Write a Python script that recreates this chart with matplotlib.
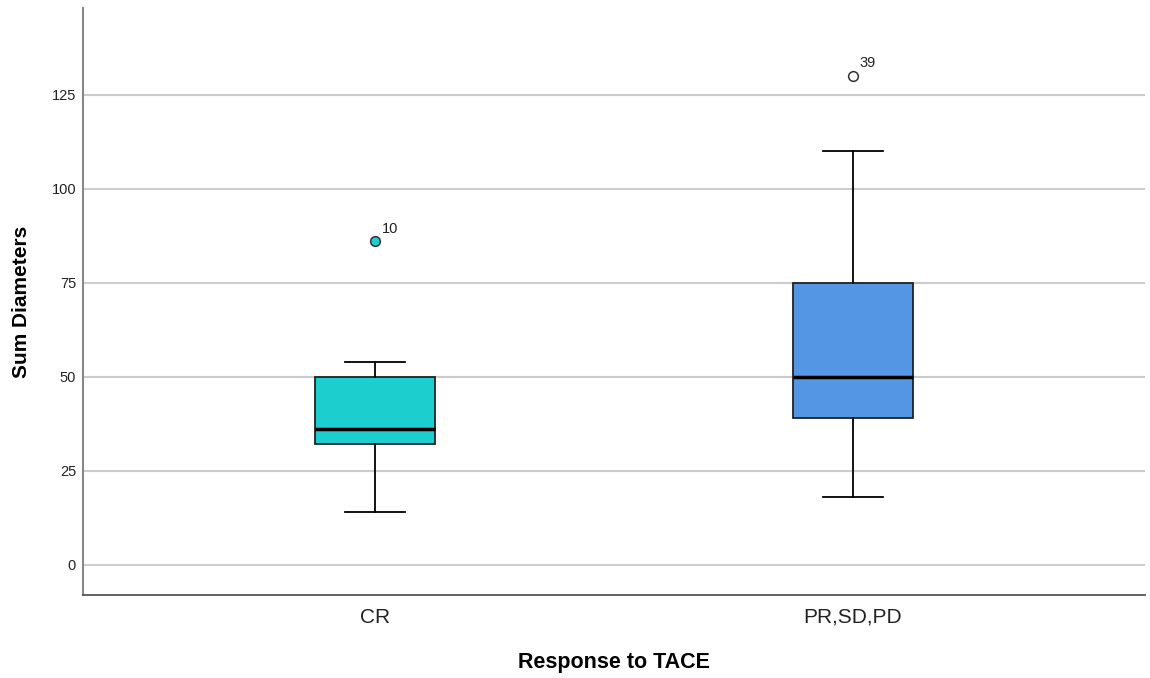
import matplotlib
matplotlib.use('Agg')
import matplotlib.pyplot as plt

plt.rcParams['font.family'] = ['Liberation Sans', 'DejaVu Sans']

# values
groups = ['CR', 'PR,SD,PD']
whisker_low = [14, 18]
q1 = [32, 39]
median = [36, 50]
q3 = [50, 75]
whisker_high = [54, 110]
outliers = [[86], [130]]
outlier_ids = [['10'], ['39']]
box_colors = ['#1ccece', '#5596e4']
flier_faces = ['#1ccece', 'white']

fig = plt.figure(figsize=(11.5, 6.78), dpi=100)
ax = fig.add_axes([0.0722, 0.1224, 0.9235, 0.8658])

stats = []
for i in range(len(groups)):
    stats.append({'whislo': whisker_low[i], 'q1': q1[i], 'med': median[i],
                  'q3': q3[i], 'whishi': whisker_high[i], 'fliers': []})

bp = ax.bxp(stats, positions=range(len(groups)), widths=0.25, patch_artist=True,
            showfliers=False, capwidths=0.125,
            boxprops=dict(edgecolor='#222222', linewidth=1.3),
            medianprops=dict(color='black', linewidth=2.5),
            whiskerprops=dict(color='black', linewidth=1.3),
            capprops=dict(color='black', linewidth=1.3), zorder=3)
for patch, c in zip(bp['boxes'], box_colors):
    patch.set_facecolor(c)

# outliers with case labels
for i in range(len(groups)):
    for v, lab in zip(outliers[i], outlier_ids[i]):
        ax.plot(i, v, 'o', markersize=7, markerfacecolor=flier_faces[i],
                markeredgecolor='#333333', markeredgewidth=1.1, zorder=4)
        ax.annotate(lab, (i, v), xytext=(5, 6), textcoords='offset points',
                    fontsize=10.5, color='#222222')

ax.set_xlim(-0.611, 1.611)
ax.set_ylim(-8, 148)
ax.set_yticks([0, 25, 50, 75, 100, 125])
ax.set_xticks(range(len(groups)))
ax.set_xticklabels(groups)
ax.grid(axis='y', color='#cccccc', linewidth=1.5, zorder=0)
ax.set_axisbelow(True)
ax.tick_params(axis='both', length=0)
ax.tick_params(axis='y', labelsize=10.5, pad=5, colors='#222222')
ax.tick_params(axis='x', labelsize=15, pad=9, colors='#222222')

for s in ['top', 'right']:
    ax.spines[s].set_visible(False)
ax.spines['left'].set_color('#888888')
ax.spines['left'].set_linewidth(1.5)
ax.spines['bottom'].set_color('#555555')
ax.spines['bottom'].set_linewidth(1.3)

ax.set_ylabel('Sum Diameters', fontsize=15, fontweight='bold', labelpad=14.5)
ax.set_xlabel('Response to TACE', fontsize=15.5, fontweight='bold', labelpad=18)

fig.savefig('out.png', dpi=100)
